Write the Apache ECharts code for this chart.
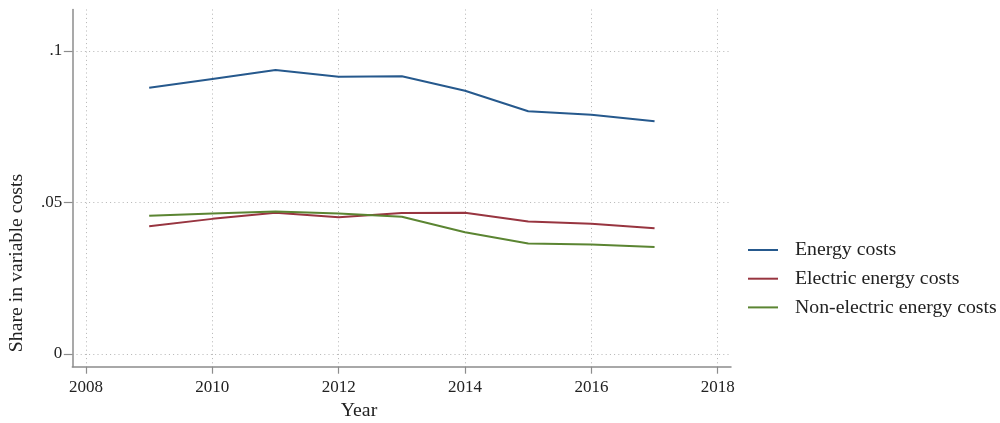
<!DOCTYPE html>
<html>
<head>
<meta charset="utf-8">
<script src="https://cdn.jsdelivr.net/npm/echarts@6/dist/echarts.min.js"></script>
<style>
html,body{margin:0;padding:0;background:#fff;}
#c{width:1000px;height:423px;}
</style>
</head>
<body>
<div id="c"></div>
<script>
const years = [2009, 2010, 2011, 2012, 2013, 2014, 2015, 2016, 2017];
const energyCosts = [0.0879, 0.0908, 0.0937, 0.0915, 0.0917, 0.0869, 0.0801, 0.0790, 0.0768];
const electricCosts = [0.0422, 0.0446, 0.0466, 0.0451, 0.0465, 0.0466, 0.0437, 0.0430, 0.0415];
const nonElectricCosts = [0.0456, 0.0464, 0.0470, 0.0464, 0.0453, 0.0402, 0.0365, 0.0361, 0.0353];
const seriesNames = ['Energy costs', 'Electric energy costs', 'Non-electric energy costs'];
const xTicks = [2008, 2010, 2012, 2014, 2016, 2018];
const yTicks = [0, 0.05, 0.1];
const yTickLabels = ['0', '.05', '.1'];

const FONT = '"Liberation Serif", "Times New Roman", serif';
const colors = ['#26598d', '#983540', '#5b8532'];
const pairs = arr => years.map((y, i) => [y, arr[i]]);

const chart = echarts.init(document.getElementById('c'), null, {renderer: 'canvas'});
const gridLine = {show: true, lineStyle: {color: '#b4b4b4', width: 1, type: [1, 3.2]}};

chart.setOption({
  animation: false,
  backgroundColor: '#ffffff',
  color: colors,
  grid: {left: 72.3, right: 269, top: 9.5, bottom: 56.3, containLabel: false},
  xAxis: {
    type: 'value',
    min: 2007.783,
    max: 2018.21,
    axisLine: {show: true, onZero: false, lineStyle: {color: '#8c8c8c', width: 1.5}},
    axisTick: {show: true, length: 7, customValues: xTicks, lineStyle: {color: '#8c8c8c', width: 1.2}},
    axisLabel: {customValues: xTicks, margin: 12, color: '#222', fontFamily: FONT, fontSize: 17,
      formatter: v => String(v)},
    splitLine: gridLine
  },
  yAxis: {
    type: 'value',
    min: -0.00419,
    max: 0.1137,
    axisLine: {show: true, onZero: false, lineStyle: {color: '#8c8c8c', width: 1.5}},
    axisTick: {show: true, length: 8.5, customValues: yTicks, lineStyle: {color: '#8c8c8c', width: 1.2}},
    axisLabel: {customValues: yTicks, margin: 10, color: '#222', fontFamily: FONT, fontSize: 17,
      formatter: v => yTickLabels[yTicks.findIndex(t => Math.abs(t - v) < 1e-9)]},
    splitLine: gridLine
  },
  legend: {
    orient: 'vertical',
    left: 748,
    top: 240,
    padding: 0,
    itemWidth: 30,
    itemHeight: 2,
    itemGap: 8.7,
    icon: 'rect',
    data: seriesNames,
    textStyle: {fontFamily: FONT, fontSize: 19.8, color: '#222', lineHeight: 20, padding: [0, 0, 0, 12]}
  },
  graphic: [
    {type: 'text', x: 359, y: 411, style: {text: 'Year', font: '19.8px ' + FONT, fill: '#222', align: 'center', verticalAlign: 'middle'}},
    {type: 'text', x: 17, y: 263, rotation: Math.PI / 2, style: {text: 'Share in variable costs', font: '19.8px ' + FONT, fill: '#222', align: 'center', verticalAlign: 'middle'}}
  ],
  series: [
    {name: seriesNames[0], type: 'line', data: pairs(energyCosts), symbol: 'none', lineStyle: {width: 2}},
    {name: seriesNames[1], type: 'line', data: pairs(electricCosts), symbol: 'none', lineStyle: {width: 2}},
    {name: seriesNames[2], type: 'line', data: pairs(nonElectricCosts), symbol: 'none', lineStyle: {width: 2}}
  ]
});
</script>
</body>
</html>
